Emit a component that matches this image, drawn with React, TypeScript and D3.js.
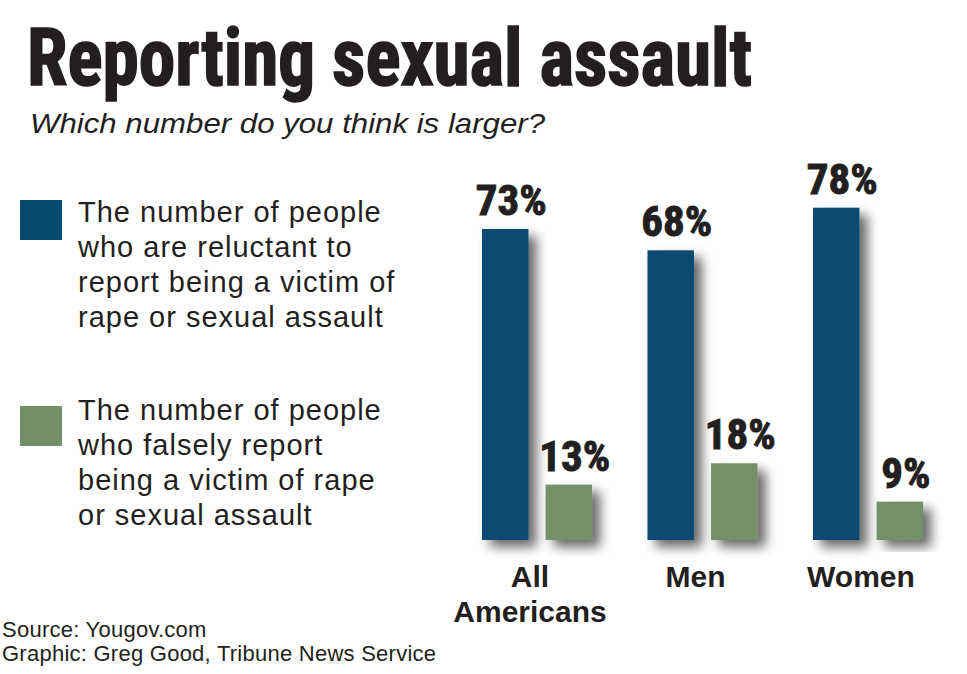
import React from "react";
import * as d3 from "d3";

const categories = ["All Americans", "Men", "Women"];
const categoryLines = [["All", "Americans"], ["Men"], ["Women"]];
const seriesKeys = ["reluctant", "falsely"];
const reluctantValues = [73, 68, 78];
const falselyValues = [13, 18, 9];
const legendLabels = [
  ["The number of people", "who are reluctant to", "report being a victim of", "rape or sexual assault"],
  ["The number of people", "who falsely report", "being a victim of rape", "or sexual assault"],
];
const title = "Reporting sexual assault";
const subtitle = "Which number do you think is larger?";
const sourceLines = ["Source: Yougov.com", "Graphic: Greg Good, Tribune News Service"];

const W = 967;
const H = 674;
const COLORS = ["#074a70", "#748f67"];
const INK = "#231f20";
const CONDENSED = "'Liberation Sans Narrow', 'Arial Narrow', 'Roboto Condensed', 'Liberation Sans', Arial, sans-serif";
const SANS = "'Liberation Sans', Arial, Helvetica, sans-serif";

export default function App() {
  const baseY = 540;
  const y = d3.scaleLinear().domain([0, 100]).range([baseY, baseY - 426]);
  const x0 = d3.scaleBand<string>().domain(categories).range([482, 923]).paddingInner(0.335).paddingOuter(0);
  const x1 = d3.scaleBand<string>().domain(seriesKeys).range([0, x0.bandwidth()]).paddingInner(0.27).paddingOuter(0);
  const series = [reluctantValues, falselyValues];
  const legendBoxTop = [200, 406];
  const legendTextTop = [222, 420];

  return (
    <svg
      width={W}
      height={H}
      viewBox={`0 0 ${W} ${H}`}
      style={{ position: "absolute", left: 0, top: 0, background: "#fff" }}
    >
      <defs>
        <filter id="shadow" x="-50%" y="-20%" width="220%" height="150%">
          <feGaussianBlur in="SourceAlpha" stdDeviation="6" />
          <feOffset dx="8" dy="7" result="b" />
          <feComponentTransfer>
            <feFuncA type="linear" slope="0.6" />
          </feComponentTransfer>
          <feMerge>
            <feMergeNode />
            <feMergeNode in="SourceGraphic" />
          </feMerge>
        </filter>
      </defs>
      <rect x={0} y={0} width={W} height={H} fill="#fff" />

      <text
        x={27}
        y={85}
        fontFamily={CONDENSED}
        fontWeight={700}
        fontSize={80}
        fill={INK}
        stroke={INK}
        strokeWidth={1.6}
        textLength={725}
        lengthAdjust="spacingAndGlyphs"
      >
        {title}
      </text>
      <text
        x={30}
        y={133}
        fontFamily={SANS}
        fontStyle="italic"
        fontSize={28}
        fill={INK}
        textLength={515}
        lengthAdjust="spacingAndGlyphs"
      >
        {subtitle}
      </text>

      {legendLabels.map((lines, i) => (
        <g key={i}>
          <rect x={20} y={legendBoxTop[i]} width={42} height={40} fill={COLORS[i]} />
          {lines.map((ln, j) => (
            <text
              key={j}
              x={78}
              y={legendTextTop[i] + j * 35}
              fontFamily={SANS}
              fontSize={29}
              letterSpacing={1}
              fill={INK}
            >
              {ln}
            </text>
          ))}
        </g>
      ))}

      {categories.map((c, ci) => (
        <g key={c} transform={`translate(${x0(c)},0)`}>
          {seriesKeys.map((k, si) => {
            const v = series[si][ci];
            const bx = x1(k) as number;
            return (
              <rect
                key={k}
                x={bx}
                y={y(v)}
                width={x1.bandwidth()}
                height={baseY - y(v)}
                fill={COLORS[si]}
                filter="url(#shadow)"
              />
            );
          })}
          {seriesKeys.map((k, si) => {
            const v = series[si][ci];
            const bx = x1(k) as number;
            return (
              <text
                key={k + "l"}
                x={bx + x1.bandwidth() / 2 + 6}
                y={y(v) - 14}
                textAnchor="middle"
                fontFamily={CONDENSED}
                fontWeight={700}
                fontSize={43}
                fill={INK}
                stroke={INK}
                strokeWidth={1}
              >
                {v}%
              </text>
            );
          })}
          {categoryLines[ci].map((ln, li) => (
            <text
              key={ln}
              x={x0.bandwidth() / 2 - 7}
              y={587 + li * 34.5}
              textAnchor="middle"
              fontFamily={SANS}
              fontWeight={700}
              fontSize={30}
              fill={INK}
            >
              {ln}
            </text>
          ))}
        </g>
      ))}

      {sourceLines.map((ln, i) => (
        <text
          key={ln}
          x={2}
          y={637 + i * 23.5}
          fontFamily={SANS}
          fontSize={22}
          fill={INK}
          letterSpacing={0.25}
        >
          {ln}
        </text>
      ))}
    </svg>
  );
}
